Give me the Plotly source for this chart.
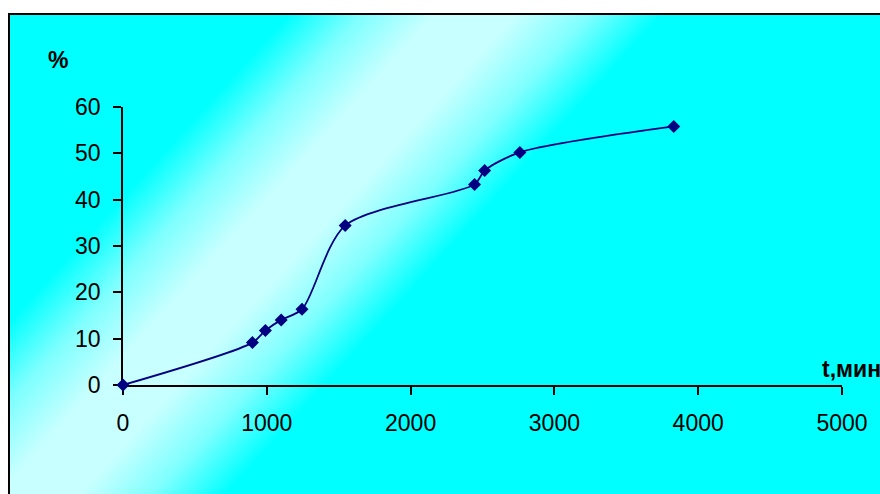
import base64
import plotly.graph_objects as go

# Measured release: time (min) vs. percent
t_min = [0, 900, 990, 1100, 1245, 1545, 2445, 2515, 2760, 3830]
percent = [0, 9.15, 11.75, 14.05, 16.35, 34.4, 43.3, 46.3, 50.2, 55.8]

x_ticks = [0, 1000, 2000, 3000, 4000, 5000]
y_ticks = [0, 10, 20, 30, 40, 50, 60]

W, H = 880, 494
L, R, T, B = 123, 38, 107, 109
pw, ph = W - L - R, H - T - B


def px_to_paper(px, py):
    return (px - L) / pw, (H - B - py) / ph


# Diagonal cyan/white gradient for the chart area
bg_w, bg_h = W - 9, H - 14
svg = f'''<svg xmlns="http://www.w3.org/2000/svg" width="{bg_w}" height="{bg_h}" viewBox="0 0 {bg_w} {bg_h}" preserveAspectRatio="none">
<defs><linearGradient id="g" gradientUnits="userSpaceOnUse" x1="24" y1="41" x2="468" y2="445">
<stop offset="0" stop-color="#00FFFF"/>
<stop offset="0.27" stop-color="#00FFFF"/>
<stop offset="0.36" stop-color="#7FFFFF"/>
<stop offset="0.45" stop-color="#C8FFFF"/>
<stop offset="0.55" stop-color="#C8FFFF"/>
<stop offset="0.64" stop-color="#7FFFFF"/>
<stop offset="0.73" stop-color="#00FFFF"/>
<stop offset="1" stop-color="#00FFFF"/>
</linearGradient></defs>
<rect x="0" y="0" width="{bg_w}" height="{bg_h}" fill="url(#g)"/>
</svg>'''
bg_src = "data:image/svg+xml;base64," + base64.b64encode(svg.encode()).decode()

bx0, by0 = px_to_paper(9, 14)
bx1, by1 = px_to_paper(W, H)

fig = go.Figure()
fig.add_trace(go.Scatter(
    x=t_min, y=percent,
    mode="lines+markers",
    line=dict(color="#000080", width=1.8, shape="spline", smoothing=0.8),
    marker=dict(symbol="diamond", size=10, color="#000080"),
    cliponaxis=False,
    showlegend=False,
))

font = dict(family="Arial, Liberation Sans, sans-serif", size=23, color="black")
axis_common = dict(
    showgrid=False, zeroline=False, showline=True, linecolor="black", linewidth=1.5,
    ticks="outside", ticklen=8, tickwidth=1.5, tickcolor="black",
    tickfont=font, layer="below traces",
)

fig.update_layout(
    width=W, height=H,
    margin=dict(l=L, r=R, t=T, b=B, pad=0),
    paper_bgcolor="white",
    plot_bgcolor="rgba(0,0,0,0)",
    xaxis=dict(range=[0, 5000], tickvals=x_ticks, ticklabelstandoff=9, **axis_common),
    yaxis=dict(range=[0, 60], tickvals=y_ticks, ticklabelstandoff=8, **axis_common),
    images=[dict(
        source=bg_src, xref="paper", yref="paper",
        x=bx0, y=by0, sizex=bx1 - bx0, sizey=by0 - by1,
        xanchor="left", yanchor="top", sizing="stretch", layer="below",
    )],
    shapes=[dict(
        type="rect", xref="paper", yref="paper",
        x0=bx0, y0=px_to_paper(0, H + 20)[1], x1=px_to_paper(W + 20, 0)[0], y1=by0,
        line=dict(color="black", width=2), fillcolor="rgba(0,0,0,0)", layer="above",
    )],
    annotations=[
        dict(text="<b>%</b>", xref="paper", yref="paper",
             x=px_to_paper(58, 0)[0], y=px_to_paper(0, 60)[1],
             xanchor="center", yanchor="middle", showarrow=False, font=font),
        dict(text="<b>t,мин</b>", xref="paper", yref="paper",
             x=px_to_paper(820, 0)[0], y=px_to_paper(0, 369)[1],
             xanchor="left", yanchor="middle", showarrow=False, font=font),
    ],
)

fig.write_html("out.html")
